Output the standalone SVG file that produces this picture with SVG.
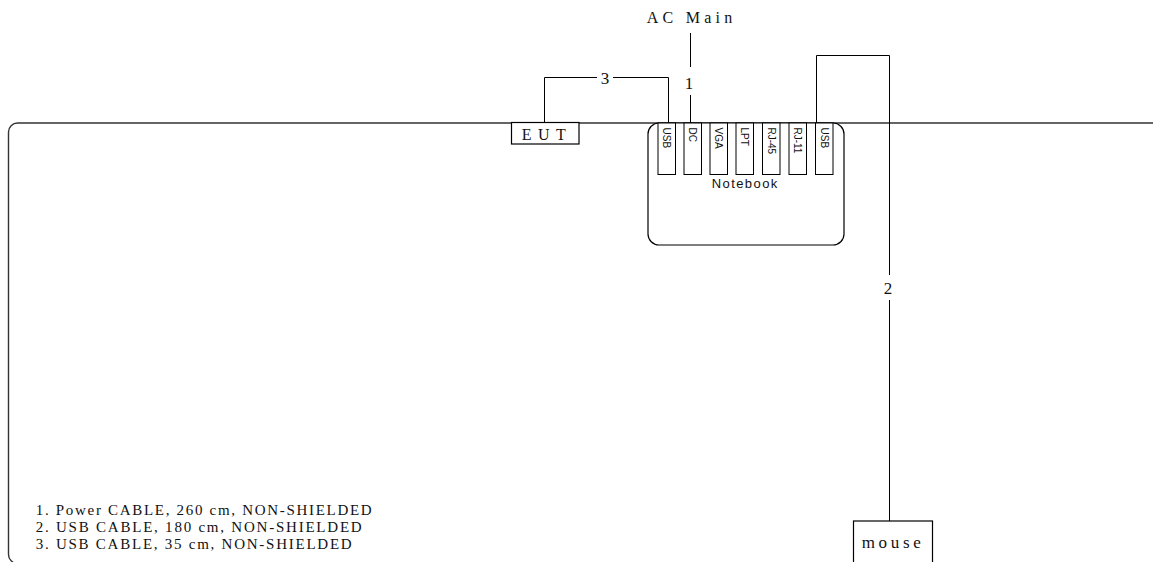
<svg xmlns="http://www.w3.org/2000/svg" width="1153" height="562" viewBox="0 0 1153 562">
<style>
.ln{fill:none;stroke:#000;stroke-width:1}
.box{fill:#fff;stroke:#000;stroke-width:1.2}
.port{fill:#fff;stroke:#000;stroke-width:1}
.serif{font-family:"Liberation Serif","Times New Roman",serif;fill:#111}
.sans{font-family:"Liberation Sans",Arial,sans-serif;fill:#111}
.plab{font-family:"Liberation Sans",Arial,sans-serif;font-size:10px;fill:#111;dominant-baseline:central}
</style>
<rect width="1153" height="562" fill="#fff"/>
<g id="table">
<rect x="8.5" y="123" width="1170" height="440.5" rx="9" fill="none" stroke="#333" stroke-width="1.4"/>
</g>
<g id="connectors">
<polyline class="ln" points="544.5,123 544.5,77.5 597,77.5"/>
<polyline class="ln" points="613,77.5 668.5,77.5 668.5,123"/>
<line class="ln" x1="690.5" y1="33" x2="690.5" y2="67"/>
<line class="ln" x1="690.5" y1="95" x2="690.5" y2="123"/>
<polyline class="ln" points="816.5,123 816.5,55.5 889.5,55.5 889.5,275"/>
<line class="ln" x1="889.5" y1="300" x2="889.5" y2="521"/>
<text class="serif" x="605" y="84" font-size="17" text-anchor="middle">3</text>
<text class="serif" x="689" y="89" font-size="17" text-anchor="middle">1</text>
<text class="serif" x="888" y="294" font-size="17" text-anchor="middle">2</text>
</g>
<g id="acmain">
<text class="serif" x="646.7" y="22.5" font-size="16" textLength="85.6" lengthAdjust="spacing">AC Main</text>
</g>
<g id="eut">
<rect class="box" x="511.5" y="122.5" width="67.5" height="21.5"/>
<text class="serif" x="521.7" y="139.5" font-size="16" textLength="44" lengthAdjust="spacing">EUT</text>
</g>
<g id="notebook">
<rect x="648" y="123" width="196" height="122" rx="11" fill="#fff" stroke="#000" stroke-width="1.2"/>
<rect class="port" x="658" y="123" width="17.5" height="51.5"/>
<rect class="port" x="684" y="123" width="17.5" height="51.5"/>
<rect class="port" x="710" y="123" width="17.5" height="51.5"/>
<rect class="port" x="736" y="123" width="17.5" height="51.5"/>
<rect class="port" x="762.5" y="123" width="17.5" height="51.5"/>
<rect class="port" x="789" y="123" width="17.5" height="51.5"/>
<rect class="port" x="815.5" y="123" width="17.5" height="51.5"/>
<text class="plab" transform="translate(666.8,127.5) rotate(90)">USB</text>
<text class="plab" transform="translate(692.8,127.5) rotate(90)">DC</text>
<text class="plab" transform="translate(718.8,127.5) rotate(90)">VGA</text>
<text class="plab" transform="translate(744.8,127.5) rotate(90)">LPT</text>
<text class="plab" transform="translate(771.3,127.5) rotate(90)">RJ-45</text>
<text class="plab" transform="translate(797.8,127.5) rotate(90)">RJ-11</text>
<text class="plab" transform="translate(824.3,127.5) rotate(90)">USB</text>
<text class="sans" x="711.7" y="188" font-size="13" textLength="65.6" lengthAdjust="spacing">Notebook</text>
</g>
<g id="mouse">
<rect class="box" x="853.5" y="521" width="79" height="50"/>
<text class="serif" x="861.7" y="547.5" font-size="17" textLength="59" lengthAdjust="spacing">mouse</text>
</g>
<g id="legend">
<text class="serif" x="35.7" y="515" font-size="15" textLength="336" lengthAdjust="spacing">1. Power CABLE, 260 cm, NON-SHIELDED</text>
<text class="serif" x="35.7" y="532" font-size="15" textLength="326" lengthAdjust="spacing">2. USB CABLE, 180 cm, NON-SHIELDED</text>
<text class="serif" x="35.7" y="549" font-size="15" textLength="316" lengthAdjust="spacing">3. USB CABLE, 35 cm, NON-SHIELDED</text>
</g>
</svg>
